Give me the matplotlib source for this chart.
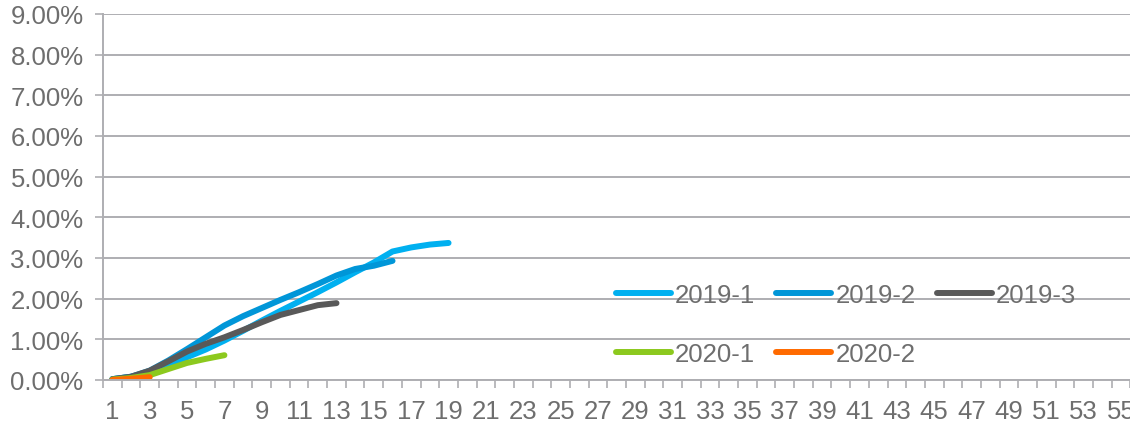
import matplotlib.pyplot as plt
import numpy as np

plt.rcParams['font.family'] = ['Liberation Sans', 'DejaVu Sans']

# cumulative rate (%) by period
s2019_1 = [0.02, 0.08, 0.20, 0.37, 0.56, 0.75, 0.97, 1.21, 1.46, 1.70,
           1.93, 2.16, 2.40, 2.65, 2.89, 3.16, 3.26, 3.33, 3.37]
s2019_2 = [0.02, 0.08, 0.23, 0.48, 0.76, 1.05, 1.34, 1.57, 1.77, 1.97,
           2.16, 2.36, 2.57, 2.73, 2.81, 2.93]
s2019_3 = [0.02, 0.08, 0.23, 0.46, 0.70, 0.89, 1.05, 1.23, 1.42, 1.60,
           1.72, 1.84, 1.89]
s2020_1 = [0.01, 0.05, 0.12, 0.27, 0.42, 0.52, 0.61]
s2020_2 = [0.00, 0.03, 0.07]

labels = ['2019-1', '2019-2', '2019-3', '2020-1', '2020-2']
colors = ['#00B0F0', '#0096D8', '#595959', '#8CC91E', '#FF6A00']
series = [s2019_1, s2019_2, s2019_3, s2020_1, s2020_2]
n_cats = 56

text_col = '#6E6E6E'
grid_col = '#AEAEB2'
fs = 18.5

fig = plt.figure(figsize=(11.3, 4.27), dpi=100)
ax = fig.add_axes([103 / 1130, 1 - 381 / 427, (1149 - 103) / 1130, 366 / 427])

lines = []
for vals, lab, col in zip(series, labels, colors):
    x = np.arange(1, len(vals) + 1)
    ln, = ax.plot(x, np.array(vals) / 100, color=col, lw=4.3, label=lab,
                  solid_capstyle='round', solid_joinstyle='round')
    lines.append(ln)

ax.set_xlim(0.5, n_cats + 0.5)
ax.set_ylim(0, 0.09)
ax.set_yticks(np.arange(0, 0.091, 0.01))
ax.set_yticklabels([f'{v:.2f}%' for v in np.arange(0, 9.1, 1)])
ax.set_xticks(np.arange(1, n_cats, 2))
ax.set_xticklabels([str(i) for i in range(1, n_cats, 2)])
ax.set_xticks(np.arange(0.5, n_cats + 1, 1), minor=True)
ax.tick_params(axis='x', which='major', length=0, pad=14, labelsize=fs, colors=text_col)
ax.tick_params(axis='x', which='minor', length=6, width=1.2, color=grid_col, direction='out')
ax.tick_params(axis='y', length=6, width=1.2, color=grid_col, labelsize=fs,
               labelcolor=text_col, pad=8)

ax.grid(axis='y', color=grid_col, lw=1.4)
ax.set_axisbelow(True)
for side in ['top', 'right']:
    ax.spines[side].set_visible(False)
for side in ['left', 'bottom']:
    ax.spines[side].set_color(grid_col)
    ax.spines[side].set_linewidth(1.4)

# row-wise legend order
order = [0, 3, 1, 4, 2]
leg = ax.legend([lines[i] for i in order], [labels[i] for i in order],
                ncol=3, frameon=False, fontsize=fs, handlelength=2.14,
                handletextpad=0.16, columnspacing=0.82, labelspacing=1.35,
                loc='upper left', bbox_to_anchor=(0.4904, 0.265),
                borderaxespad=0, borderpad=0)
for t in leg.get_texts():
    t.set_color(text_col)

fig.savefig('out.png', dpi=100)
